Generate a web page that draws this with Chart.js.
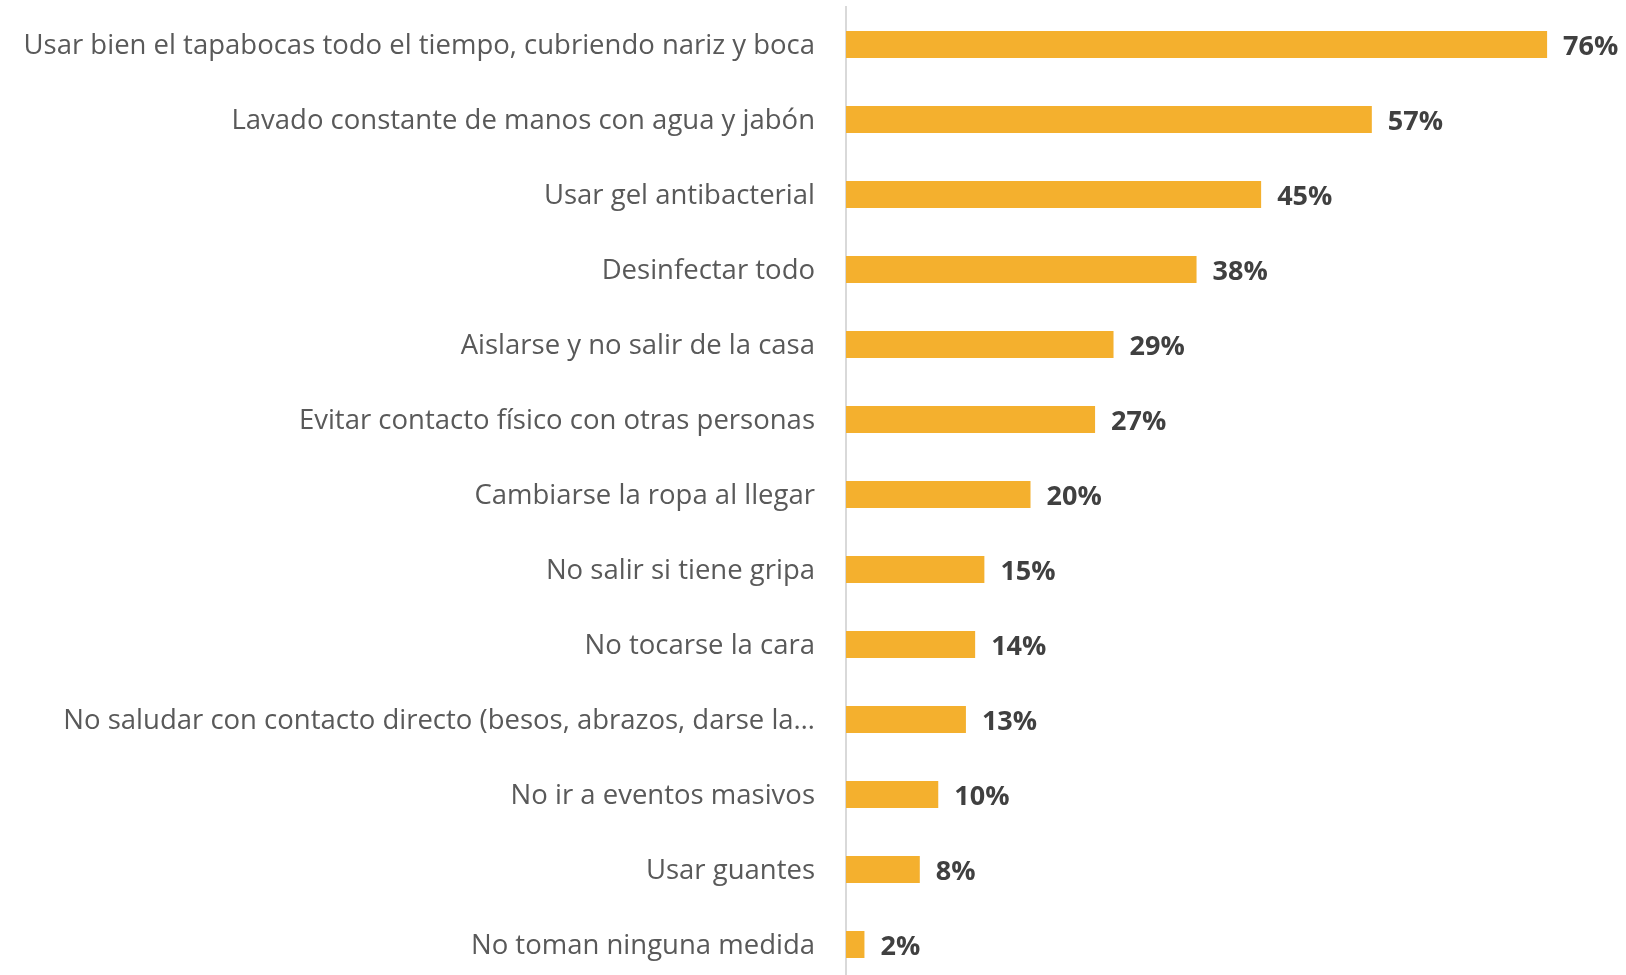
<!DOCTYPE html>
<html>
<head>
<meta charset="utf-8">
<script src="https://cdn.jsdelivr.net/npm/chart.js@4/dist/chart.umd.min.js"></script>
<style>
  html, body { margin: 0; padding: 0; background: #fff; overflow: hidden; }
  #wrap { width: 1626px; height: 990px; position: relative; }
</style>
</head>
<body>
<div id="wrap"><canvas id="chart"></canvas></div>
<script>
// Medidas de prevención (porcentaje de menciones)
const medidas = [
    'Usar bien el tapabocas todo el tiempo, cubriendo nariz y boca',
    'Lavado constante de manos con agua y jabón',
    'Usar gel antibacterial',
    'Desinfectar todo',
    'Aislarse y no salir de la casa',
    'Evitar contacto físico con otras personas',
    'Cambiarse la ropa al llegar',
    'No salir si tiene gripa',
    'No tocarse la cara',
    'No saludar con contacto directo (besos, abrazos, darse la…',
    'No ir a eventos masivos',
    'Usar guantes',
    'No toman ninguna medida'
];
const porcentajes = [76, 57, 45, 38, 29, 27, 20, 15, 14, 13, 10, 8, 2];

// Etiquetas de valor al final de cada barra
const etiquetasValor = {
    id: 'etiquetasValor',
    afterDatasetsDraw(chart) {
        const ctx = chart.ctx;
        const meta = chart.getDatasetMeta(0);
        ctx.save();
        ctx.font = 'bold 27px "Open Sans"';
        ctx.fillStyle = '#404040';
        ctx.textAlign = 'left';
        ctx.textBaseline = 'middle';
        meta.data.forEach((bar, i) => {
            ctx.fillText(porcentajes[i] + '%', bar.x + 16, bar.y + 3);
        });
        ctx.restore();
    }
};

const ctx = document.getElementById('chart').getContext('2d');
new Chart(ctx, {
    type: 'bar',
    data: {
        labels: medidas,
        datasets: [{
            data: porcentajes,
            backgroundColor: '#F4B02E',
            barPercentage: 0.36,
            categoryPercentage: 1.0
        }]
    },
    options: {
        indexAxis: 'y',
        responsive: true,
        maintainAspectRatio: false,
        animation: false,
        layout: { padding: { top: 7, bottom: 8, right: 42, left: 0 } },
        plugins: {
            legend: { display: false },
            tooltip: { enabled: false }
        },
        scales: {
            x: {
                display: false,
                min: 0,
                max: 80
            },
            y: {
                grid: { display: false, drawTicks: false },
                border: { display: true, color: '#D9D9D9', width: 2 },
                ticks: {
                    color: '#595959',
                    padding: 31,
                    labelOffset: 2,
                    font: { family: '"Open Sans"', size: 27.5 }
                },
                // ancho fijo del eje de categorías, sin relleno vertical extra
                afterFit(scale) {
                    scale.width = 846;
                    scale.paddingTop = 0;
                    scale.paddingBottom = 0;
                }
            }
        }
    },
    plugins: [etiquetasValor]
});
</script>
</body>
</html>
